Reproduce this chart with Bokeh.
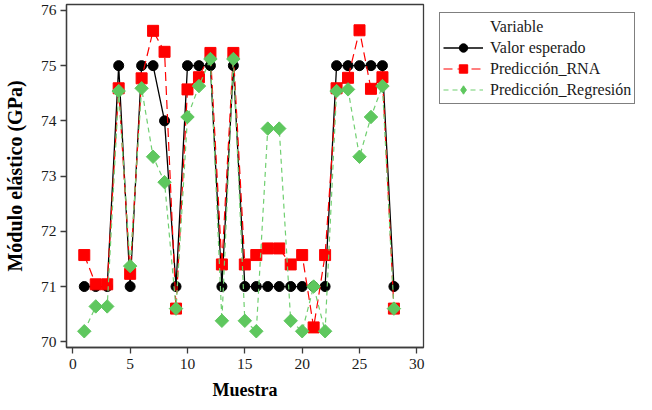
import numpy as np
from bokeh.plotting import figure
from bokeh.layouts import row
from bokeh.models import Legend, LegendItem, Range1d, FixedTicker
from bokeh.embed import file_html
from bokeh.resources import INLINE

muestra = list(range(1, 29))
valor_esperado = [71, 71, 71, 75, 71, 75, 75, 74, 71, 75, 75, 75, 71, 75,
                  71, 71, 71, 71, 71, 71, 71, 71, 75, 75, 75, 75, 75, 71]
prediccion_rna = [71.57, 71.04, 71.04, 74.59, 71.23, 74.77, 75.63, 75.25, 70.60, 74.57,
                  74.79, 75.23, 71.40, 75.23, 71.40, 71.57, 71.69, 71.69, 71.40, 71.57,
                  70.26, 71.57, 74.59, 74.78, 75.64, 74.58, 74.79, 70.60]
prediccion_reg = [70.19, 70.64, 70.64, 74.54, 71.37, 74.59, 73.35, 72.89, 70.60, 74.07,
                  74.63, 75.12, 70.38, 75.12, 70.38, 70.19, 73.86, 73.86, 70.38, 70.19,
                  71.00, 70.19, 74.54, 74.57, 73.35, 74.07, 74.63, 70.60]
x_ticks = [0, 5, 10, 15, 20, 25, 30]
y_ticks = [70, 71, 72, 73, 74, 75, 76]
series_names = ["Valor esperado", "Predicción_RNA", "Predicción_Regresión"]

FONT = "Liberation Serif"
FRAME = "#3c3c3c"

# styles
BLK = dict(line=dict(line_color="black", line_width=1.3),
           mark=dict(marker="circle", size=10, fill_color="black", line_color="black"))
RED = dict(line=dict(line_color="#ff0000", line_width=1.2, line_dash="9 5"),
           mark=dict(marker="square", size=11, fill_color="#ff0000", line_color="#ff0000"))
GRN = dict(line=dict(line_color="#70cf70", line_width=1.2, line_dash="5 4"),
           mark=dict(marker="square", angle=np.pi / 4, size=9.5,
                     fill_color="#5ec75e", line_color="#5ec75e"))
GRN_LEG = dict(line=GRN["line"],
               mark=dict(marker="diamond", size=13, fill_color="#5ec75e", line_color="#5ec75e"))

p = figure(width=431, height=402, output_backend="svg", toolbar_location=None,
           x_range=Range1d(-0.55, 30.58), y_range=Range1d(69.896, 76.107),
           min_border_left=61, min_border_right=8, min_border_top=4, min_border_bottom=50)
p.xgrid.visible = False
p.ygrid.visible = False
p.outline_line_color = FRAME
p.outline_line_width = 1.3
p.background_fill_color = "white"
p.border_fill_color = "white"

for ax in (p.xaxis[0], p.yaxis[0]):
    ax.axis_line_color = FRAME
    ax.axis_line_width = 1.3
    ax.major_tick_line_color = FRAME
    ax.major_tick_line_width = 1.3
    ax.major_tick_out = 6
    ax.major_tick_in = 0
    ax.minor_tick_line_color = None
    ax.major_label_text_font = FONT
    ax.major_label_text_font_size = "15.5px"
    ax.major_label_text_color = "#1a1a1a"
    ax.axis_label_text_font = FONT
    ax.axis_label_text_font_style = "bold"
    ax.axis_label_text_color = "black"

p.xaxis[0].ticker = FixedTicker(ticks=x_ticks)
p.yaxis[0].ticker = FixedTicker(ticks=y_ticks)
p.xaxis[0].axis_label = "Muestra"
p.xaxis[0].axis_label_text_font_size = "18px"
p.xaxis[0].major_label_standoff = 5
p.xaxis[0].axis_label_standoff = 8
p.yaxis[0].axis_label = "Módulo elástico (GPa)"
p.yaxis[0].axis_label_text_font_size = "20px"
p.yaxis[0].major_label_standoff = 4
p.yaxis[0].axis_label_standoff = 12

for ys, st in ((valor_esperado, BLK), (prediccion_rna, RED), (prediccion_reg, GRN)):
    p.line(muestra, ys, **st["line"])
    p.scatter(muestra, ys, **st["mark"])

# legend panel as a separate, axis-free figure
lg = figure(width=213, height=402, output_backend="svg", toolbar_location=None,
            x_range=Range1d(0, 1), y_range=Range1d(0, 1),
            x_axis_location=None, y_axis_location=None,
            min_border_left=0, min_border_right=0, min_border_top=0, min_border_bottom=0)
lg.xgrid.visible = False
lg.ygrid.visible = False
lg.outline_line_color = None
lg.border_fill_color = "white"

# proxy renderers (outside the visible range) for the legend glyphs
px, py = [-10, -9], [-10, -10]
hdr = lg.line(px, py, line_alpha=0)
items = [LegendItem(label="Variable", renderers=[hdr])]
for name, st in zip(series_names, (BLK, RED, GRN_LEG)):
    r1 = lg.line(px, py, **st["line"])
    r2 = lg.scatter(px, py, **st["mark"])
    items.append(LegendItem(label=name, renderers=[r1, r2]))

legend = Legend(items=items)
legend.location = "top_left"
legend.label_text_font = FONT
legend.label_text_font_size = "16px"
legend.label_text_color = "#1a1a1a"
legend.label_height = 21
legend.glyph_height = 21
legend.glyph_width = 40
legend.label_standoff = 7
legend.spacing = 0
legend.padding = 3
legend.margin = 8
legend.border_line_color = "black"
legend.border_line_width = 1.5
legend.background_fill_color = "white"
legend.background_fill_alpha = 1
lg.add_layout(legend, "center")

layout = row(p, lg)
open("out.html", "w").write(file_html(layout, INLINE))
